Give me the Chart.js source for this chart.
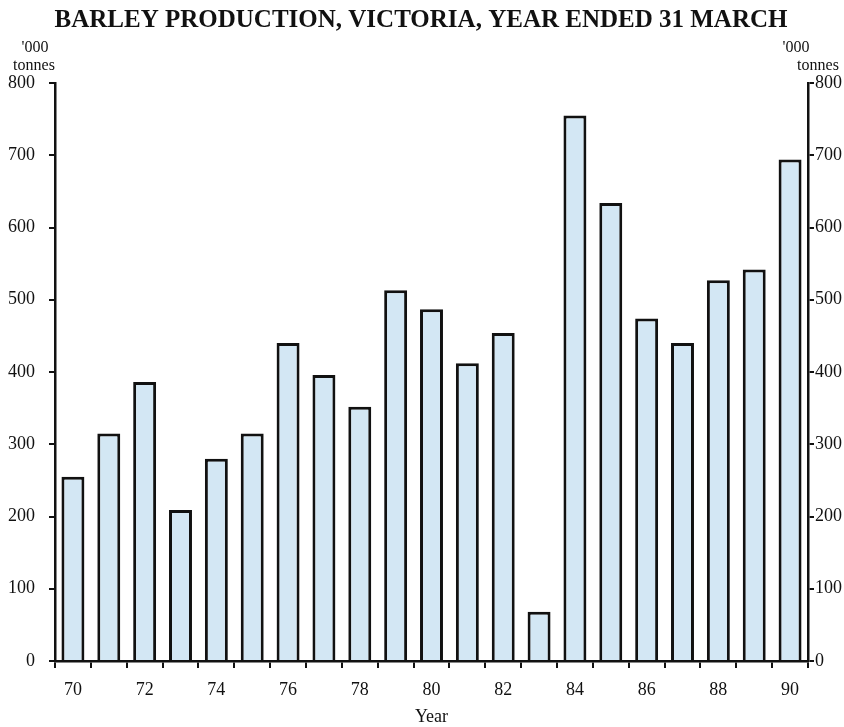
<!DOCTYPE html>
<html>
<head>
<meta charset="utf-8">
<script src="https://cdn.jsdelivr.net/npm/chart.js@4/dist/chart.umd.min.js"></script>
<style>
    html, body { margin: 0; padding: 0; background: #fff; }
    #chart { display: block; }
</style>
</head>
<body>
<canvas id="chart" width="844" height="727"></canvas>
<script>
// Barley production, Victoria ('000 tonnes), year ended 31 March
const years = ['70', '71', '72', '73', '74', '75', '76', '77', '78', '79', '80',
               '81', '82', '83', '84', '85', '86', '87', '88', '89', '90'];
const production = [255, 315, 386, 209, 280, 315, 440, 396, 352, 513, 487,
                    412, 454, 68, 755, 634, 474, 440, 527, 542, 694];
const yTicks = [0, 100, 200, 300, 400, 500, 600, 700, 800];

const titleText = 'BARLEY PRODUCTION, VICTORIA, YEAR ENDED 31 MARCH';
const serif = '"Liberation Serif", "Times New Roman", serif';

// Extra texts: title, unit labels, axis title
const textPlugin = {
    id: 'texts',
    afterDraw(chart) {
        const ctx = chart.ctx;
        const area = chart.chartArea;
        ctx.save();
        ctx.fillStyle = '#111';
        ctx.textAlign = 'center';
        ctx.textBaseline = 'alphabetic';

        ctx.font = 'bold 25px ' + serif;
        ctx.fillText(titleText, 421, 27);

        ctx.font = '16px ' + serif;
        ctx.fillText("'000", 35, 52);
        ctx.fillText('tonnes', 34, 70);
        ctx.fillText("'000", 796, 52);
        ctx.fillText('tonnes', 818, 70);

        ctx.font = '18px ' + serif;
        ctx.fillText('Year', (area.left + area.right) / 2, 722);
        ctx.restore();
    }
};

const axisFont = { family: serif, size: 18 };

new Chart(document.getElementById('chart'), {
    type: 'bar',
    data: {
        labels: years,
        datasets: [{
            data: production,
            backgroundColor: '#d3e7f4',
            borderColor: '#111',
            borderWidth: 3,
            barPercentage: 0.64,
            categoryPercentage: 1
        }]
    },
    options: {
        responsive: false,
        animation: false,
        layout: { padding: { top: 83, left: 0, right: 0, bottom: 0 } },
        plugins: {
            legend: { display: false },
            tooltip: { enabled: false }
        },
        scales: {
            x: {
                grid: {
                    offset: true,
                    drawOnChartArea: false,
                    color: '#111',
                    lineWidth: 2,
                    tickLength: 7
                },
                border: { color: '#111', width: 2.5 },
                ticks: {
                    color: '#111',
                    font: axisFont,
                    padding: 11,
                    autoSkip: false,
                    maxRotation: 0,
                    callback: (value, index) => index % 2 === 0 ? years[index] : ''
                },
                afterFit: (scale) => { scale.height = 66; }
            },
            y: {
                position: 'left',
                min: 0,
                max: 800,
                afterBuildTicks: (scale) => { scale.ticks = yTicks.map(v => ({ value: v })); },
                grid: { drawOnChartArea: false, color: '#111', lineWidth: 2, tickLength: 6 },
                border: { color: '#111', width: 2.5 },
                ticks: { color: '#111', font: axisFont, padding: 14 },
                afterFit: (scale) => { scale.width = 55; }
            },
            y2: {
                position: 'right',
                min: 0,
                max: 800,
                afterBuildTicks: (scale) => { scale.ticks = yTicks.map(v => ({ value: v })); },
                grid: { drawOnChartArea: false, color: '#111', lineWidth: 2, tickLength: 6 },
                border: { color: '#111', width: 2.5 },
                ticks: { color: '#111', font: axisFont, padding: 1 },
                afterFit: (scale) => { scale.width = 36; }
            }
        }
    },
    plugins: [textPlugin]
});
</script>
</body>
</html>
